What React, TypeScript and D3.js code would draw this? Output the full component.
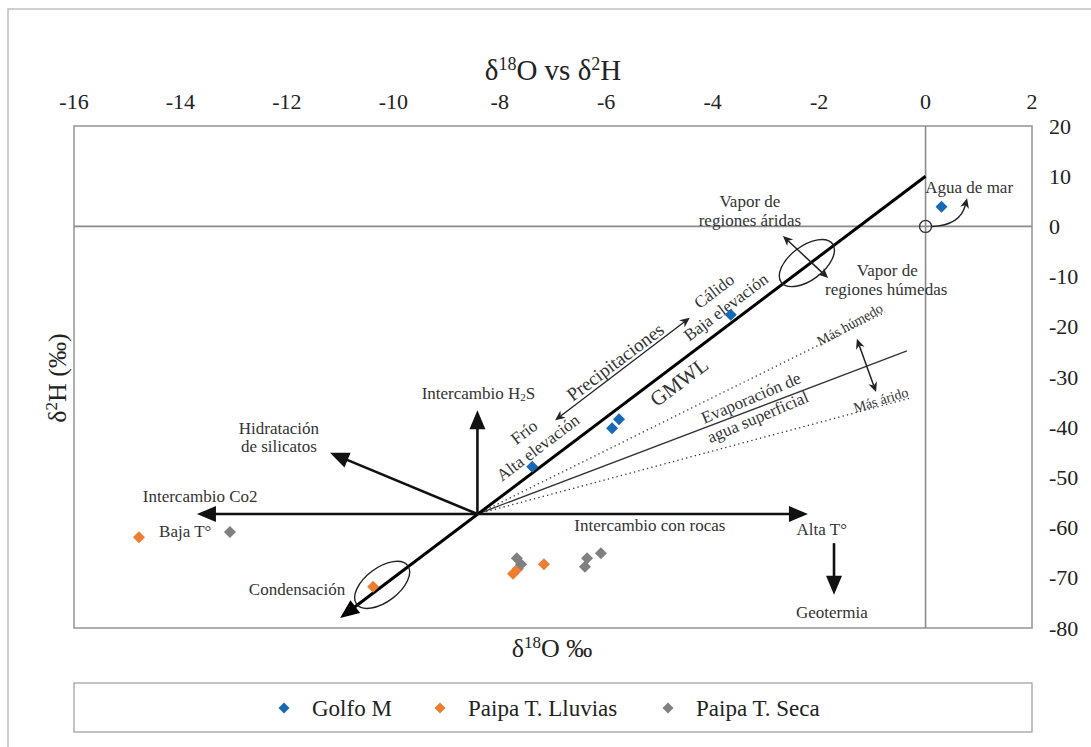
import React from 'react';
import * as d3 from 'd3';

// ---- data ----
const xTicks = [-16, -14, -12, -10, -8, -6, -4, -2, 0, 2];
const yTicks = [20, 10, 0, -10, -20, -30, -40, -50, -60, -70, -80];

const golfoX = [0.3, -3.66, -5.89, -5.76, -7.39];
const golfoY = [3.9, -17.6, -40.2, -38.4, -47.9];
const lluviasX = [-14.78, -10.38, -7.75, -7.66, -7.17];
const lluviasY = [-61.9, -71.8, -69.2, -68.2, -67.3];
const secaX = [-13.07, -7.68, -7.6, -6.36, -6.4, -6.1];
const secaY = [-60.9, -66.1, -67.3, -66.1, -67.8, -65.1];

const seriesNames = ['Golfo M', 'Paipa T. Lluvias', 'Paipa T. Seca'];
const seriesColors = ['#1769b5', '#ed7d31', '#808080'];

// annotation geometry in data units
const center = [-8.42, -57.3];
const boldArrowEnds = [
  [-13.69, -57.3], // Intercambio Co2
  [-2.21, -57.3], // Intercambio con rocas
  [-8.42, -36.6], // Intercambio H2S
  [-11.19, -45.1], // Hidratación
];
const gmwl = [[0, 10], [-11, -78]];
const evapSolid = [-0.35, -24.8];
const evapDotted = [[-0.76, -17.1], [-0.29, -34.2]];
const geoArrow = [[-1.72, -63.1], [-1.72, -73.4]];
const precipArrow = [[-6.96, -38.6], [-4.43, -18.2]];
const vaporArrow = [[-2.68, -1.9], [-1.83, -10.3]];
const masArrow = [[-1.29, -22.4], [-0.93, -33.0]];
const ellipses = [[-2.23, -7.3], [-10.21, -71.4]];
const curve = [[0.12, 0], [0.65, 0.2], [0.78, 5.6]];

type Lbl = { t: string; x: number; y: number; r?: number; s?: number };
const labels: Lbl[] = [
  { t: 'Hidratación', x: -12.15, y: -40.2 },
  { t: 'de silicatos', x: -12.15, y: -43.9 },
  { t: 'Intercambio Co2', x: -13.63, y: -53.9 },
  { t: 'Baja T°', x: -13.91, y: -60.7 },
  { t: 'Condensación', x: -11.81, y: -72.4 },
  { t: 'Intercambio con rocas', x: -5.18, y: -59.5 },
  { t: 'Alta T°', x: -1.95, y: -60.3 },
  { t: 'Geotermia', x: -1.76, y: -77.0 },
  { t: 'Frío', x: -7.54, y: -41.0, r: -37 },
  { t: 'Alta elevación', x: -7.28, y: -44.1, r: -37 },
  { t: 'Precipitaciones', x: -5.83, y: -27.0, r: -37, s: 19 },
  { t: 'GMWL', x: -4.63, y: -31.0, r: -37, s: 21 },
  { t: 'Cálido', x: -3.97, y: -12.9, r: -37 },
  { t: 'Baja elevación', x: -3.75, y: -16.1, r: -37 },
  { t: 'Vapor de', x: -3.3, y: 4.9 },
  { t: 'regiones áridas', x: -3.3, y: 1.1 },
  { t: 'Vapor de', x: -0.72, y: -8.7 },
  { t: 'regiones húmedas', x: -0.74, y: -12.5 },
  { t: 'Agua de mar', x: 0.82, y: 7.8 },
  { t: 'Evaporación de', x: -3.28, y: -34.2, r: -23 },
  { t: 'agua superficial', x: -3.15, y: -38.0, r: -23 },
  { t: 'Más húmedo', x: -1.42, y: -19.6, r: -29, s: 14 },
  { t: 'Más árido', x: -0.84, y: -34.6, r: -17, s: 14 },
];

const W = 1091;
const H = 747;
const FONT = '"Liberation Serif", "Times New Roman", Times, serif';

const x = d3.scaleLinear().domain([-16, 2]).range([74, 1032]);
const y = d3.scaleLinear().domain([-80, 20]).range([628, 126]);

function head(x1: number, y1: number, x2: number, y2: number, len: number, hw: number, notch = 0) {
  const dx = x2 - x1, dy = y2 - y1;
  const L = Math.hypot(dx, dy);
  const ux = dx / L, uy = dy / L;
  const nx = -uy, ny = ux;
  const bx = x2 - ux * len, by = y2 - uy * len;
  const mx = x2 - ux * len * (1 - notch), my = y2 - uy * len * (1 - notch);
  const pts = [
    [x2, y2],
    [bx + nx * hw, by + ny * hw],
    [mx, my],
    [bx - nx * hw, by - ny * hw],
  ];
  return { d: 'M' + pts.map((p) => p.join(',')).join('L') + 'Z', sx: x2 - ux * len * 0.7, sy: y2 - uy * len * 0.7 };
}

function BoldArrow({ a, b }: { a: number[]; b: number[] }) {
  const x1 = x(a[0]), y1 = y(a[1]), x2 = x(b[0]), y2 = y(b[1]);
  const h = head(x1, y1, x2, y2, 19, 8);
  return (
    <g>
      <line x1={x1} y1={y1} x2={h.sx} y2={h.sy} stroke="#111" strokeWidth={2.6} />
      <path d={h.d} fill="#111" />
    </g>
  );
}

function ThinArrow({ a, b, double = true, w = 1.3 }: { a: number[]; b: number[]; double?: boolean; w?: number }) {
  const x1 = x(a[0]), y1 = y(a[1]), x2 = x(b[0]), y2 = y(b[1]);
  const h2 = head(x1, y1, x2, y2, 10, 4.5, 0.3);
  const h1 = head(x2, y2, x1, y1, 10, 4.5, 0.3);
  return (
    <g>
      <line x1={double ? h1.sx : x1} y1={double ? h1.sy : y1} x2={h2.sx} y2={h2.sy} stroke="#222" strokeWidth={w} />
      <path d={h2.d} fill="#222" />
      {double && <path d={h1.d} fill="#222" />}
    </g>
  );
}

function Diamond({ cx, cy, r, color }: { cx: number; cy: number; r: number; color: string }) {
  return <path d={`M${cx},${cy - r}L${cx + r},${cy}L${cx},${cy + r}L${cx - r},${cy}Z`} fill={color} />;
}

export default function App() {
  const cx = x(center[0]), cy = y(center[1]);
  const series = [
    { xs: golfoX, ys: golfoY },
    { xs: lluviasX, ys: lluviasY },
    { xs: secaX, ys: secaY },
  ];
  const legendX = [284, 440, 668];
  const cStart = [x(curve[0][0]), y(curve[0][1])];
  const cCtrl = [x(curve[1][0]), y(curve[1][1])];
  const cEnd = [x(curve[2][0]), y(curve[2][1])];
  const ch = head(cCtrl[0], cCtrl[1], cEnd[0], cEnd[1], 10, 4.5, 0.3);
  const gm1 = [x(gmwl[0][0]), y(gmwl[0][1])];
  const gm2 = [x(gmwl[1][0]), y(gmwl[1][1])];
  const gh = head(gm1[0], gm1[1], gm2[0], gm2[1], 19, 8);
  return (
    <svg width={W} height={H} style={{ position: 'absolute', left: 0, top: 0, background: '#fff', fontFamily: FONT }}>
      <rect x={0} y={0} width={W} height={H} fill="#fff" />
      {/* outer frame */}
      <rect x={8} y={9} width={W + 20} height={H + 20} fill="none" stroke="#b0b0b0" strokeWidth={1.2} />
      {/* title */}
      <text x={553} y={80} textAnchor="middle" fontSize={29} fill="#222">
        δ<tspan dy={-10} fontSize={18}>18</tspan>
        <tspan dy={10}>O vs δ</tspan>
        <tspan dy={-10} fontSize={18}>2</tspan>
        <tspan dy={10}>H</tspan>
      </text>
      {/* top ticks */}
      {xTicks.map((t) => (
        <text key={'xt' + t} x={x(t)} y={109} textAnchor="middle" fontSize={22} fill="#222">
          {t}
        </text>
      ))}
      {/* right ticks */}
      {yTicks.map((t) => (
        <text key={'yt' + t} x={1049} y={y(t)} dominantBaseline="central" fontSize={22} fill="#222">
          {t}
        </text>
      ))}
      {/* plot frame */}
      <rect x={x(-16)} y={y(20)} width={x(2) - x(-16)} height={y(-80) - y(20)} fill="none" stroke="#9a9a9a" strokeWidth={1.6} />
      <line x1={x(-16)} x2={x(2)} y1={y(0)} y2={y(0)} stroke="#8a8a8a" strokeWidth={1.6} />
      <line x1={x(0)} x2={x(0)} y1={y(20)} y2={y(-80)} stroke="#8a8a8a" strokeWidth={1.6} />
      {/* axis labels */}
      <text x={552} y={657} textAnchor="middle" fontSize={26} fill="#222">
        δ<tspan dy={-9} fontSize={17}>18</tspan>
        <tspan dy={9}>O ‰</tspan>
      </text>
      <text transform="translate(66,378) rotate(-90)" textAnchor="middle" fontSize={26} fill="#222">
        δ<tspan dy={-9} fontSize={17}>2</tspan>
        <tspan dy={9}>H (‰)</tspan>
      </text>

      {/* evaporation lines */}
      <line x1={cx} y1={cy} x2={x(evapSolid[0])} y2={y(evapSolid[1])} stroke="#333" strokeWidth={1.3} />
      {evapDotted.map((p, i) => (
        <line key={'ed' + i} x1={cx} y1={cy} x2={x(p[0])} y2={y(p[1])} stroke="#333" strokeWidth={1.3} strokeDasharray="1.3,3.2" />
      ))}
      {/* GMWL */}
      <line x1={gm1[0]} y1={gm1[1]} x2={gh.sx} y2={gh.sy} stroke="#000" strokeWidth={3} />
      <path d={gh.d} fill="#000" />
      {/* bold arrows */}
      {boldArrowEnds.map((p, i) => (
        <BoldArrow key={'ba' + i} a={center} b={p} />
      ))}
      <BoldArrow a={geoArrow[0]} b={geoArrow[1]} />
      {/* thin double arrows */}
      <ThinArrow a={precipArrow[0]} b={precipArrow[1]} />
      <ThinArrow a={vaporArrow[0]} b={vaporArrow[1]} w={1.5} />
      <ThinArrow a={masArrow[0]} b={masArrow[1]} w={1.5} />
      {/* ellipses */}
      {ellipses.map((p, i) => (
        <ellipse key={'el' + i} cx={x(p[0])} cy={y(p[1])} rx={32} ry={17} transform={`rotate(-37 ${x(p[0])} ${y(p[1])})`} fill="none" stroke="#222" strokeWidth={1.4} />
      ))}
      {/* origin circle and curved arrow */}
      <circle cx={x(0)} cy={y(0)} r={6} fill="none" stroke="#333" strokeWidth={1.4} />
      <path d={`M${cStart[0]},${cStart[1]}Q${cCtrl[0]},${cCtrl[1]} ${ch.sx},${ch.sy}`} fill="none" stroke="#222" strokeWidth={1.5} />
      <path d={ch.d} fill="#222" />

      {/* labels */}
      {labels.map((l, i) => (
        <text
          key={'lb' + i}
          x={x(l.x)}
          y={y(l.y)}
          textAnchor="middle"
          dominantBaseline="central"
          fontSize={l.s ?? 17}
          fill="#333"
          transform={l.r ? `rotate(${l.r} ${x(l.x)} ${y(l.y)})` : undefined}
        >
          {l.t}
        </text>
      ))}
      <text x={x(-8.4)} y={y(-33.2)} textAnchor="middle" dominantBaseline="central" fontSize={17} fill="#333">
        Intercambio H<tspan fontSize={11} dy={4}>2</tspan>
        <tspan dy={-4}>S</tspan>
      </text>

      {/* data points */}
      {series.map((s, si) =>
        s.xs.map((v, i) => <Diamond key={'p' + si + '-' + i} cx={x(v)} cy={y(s.ys[i])} r={6} color={seriesColors[si]} />)
      )}

      {/* legend */}
      <rect x={74} y={683} width={958} height={49} fill="#fff" stroke="#a8a8a8" strokeWidth={1.4} />
      {seriesNames.map((n, i) => (
        <g key={'lg' + i}>
          <Diamond cx={legendX[i]} cy={708} r={5.5} color={seriesColors[i]} />
          <text x={legendX[i] + 28} y={708} dominantBaseline="central" fontSize={23} fill="#222">
            {n}
          </text>
        </g>
      ))}
    </svg>
  );
}
